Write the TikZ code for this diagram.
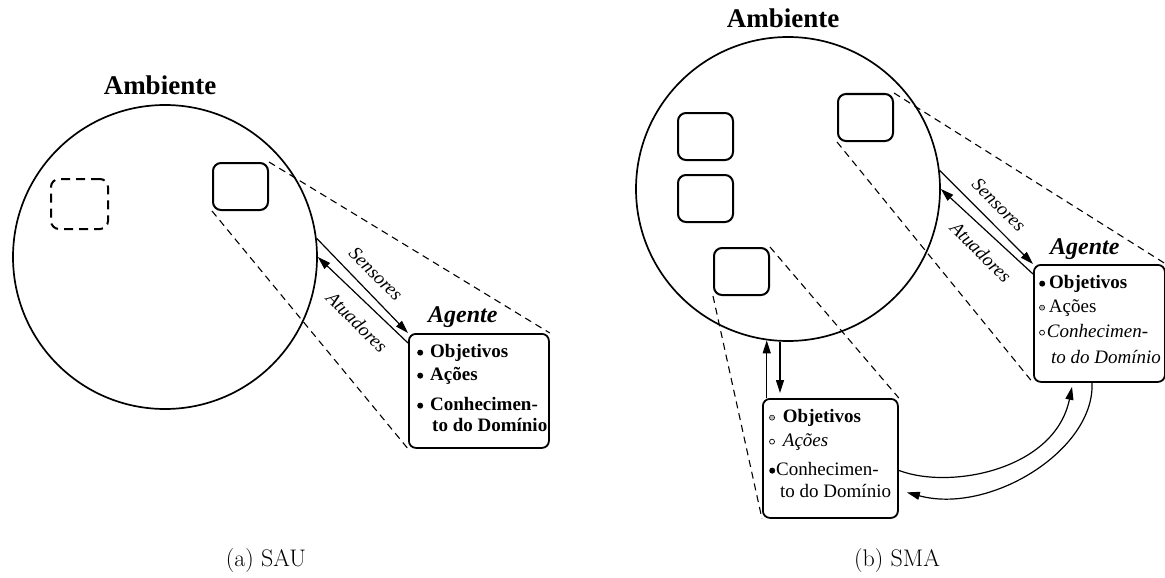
\documentclass[tikz,border=0pt]{standalone}
\usepackage{fontspec}
\newfontfamily\tmsfont{Liberation Serif}
\usetikzlibrary{arrows.meta,calc}

\newcommand{\fulldot}{\tikz[baseline=-0.5ex]\fill (0pt,0pt) circle (3pt);}
\newcommand{\graydot}{\tikz[baseline=-0.5ex]\filldraw[fill=gray!55,line width=0.5pt] (0pt,0pt) circle (2.6pt);}
\newcommand{\opendot}{\tikz[baseline=-0.5ex]\draw[line width=0.7pt] (0pt,0pt) circle (2.5pt);}

\begin{document}
\begin{tikzpicture}[x=1pt,y=-1pt,
    amb/.style={circle,draw,line width=1.7pt,minimum size=304pt,inner sep=0pt},
    obj/.style={draw,line width=2pt,rounded corners=8pt,minimum width=55pt,minimum height=47pt,inner sep=0pt,anchor=north west},
    agbox/.style={draw,line width=1.8pt,rounded corners=7pt,inner sep=0pt,anchor=north west},
    view/.style={line width=1.1pt,dash pattern=on 7pt off 5pt},
    act/.style={line width=1.2pt,-{Triangle[length=13pt,width=8pt]}},
    txt/.style={font=\tmsfont\fontsize{19}{22}\selectfont,anchor=base west,inner sep=0pt},
    ttl/.style={font=\tmsfont\bfseries\fontsize{27}{30}\selectfont,anchor=base,inner sep=0pt},
    agt/.style={font=\tmsfont\bfseries\itshape\fontsize{24}{28}\selectfont,anchor=base west,inner sep=0pt},
    lbl/.style={font=\tmsfont\itshape\fontsize{19}{22}\selectfont,rotate=-45,inner sep=0pt},
    subcap/.style={font=\fontsize{24}{28}\selectfont,anchor=base,inner sep=0pt}]
  \useasboundingbox (0,0) rectangle (1165,578);

  % (a) SAU
  \node[ttl] (amb1) at (160,95) {Ambiente};
  \node[amb] (env1) at (165,257) {};
  \node[obj,dash pattern=on 9pt off 6pt,minimum width=57pt,minimum height=50pt] (ghost) at (50,178) {};
  \node[obj] (self1) at (212,162) {};
  \node[agbox,minimum width=140pt,minimum height=114pt] (ag1) at (408,333) {};
  \node[agt] (agn1) at (428,322) {Agente};
  \node[txt] (a1o) at (417,357) {\fulldot\hspace{7pt}\textbf{Objetivos}};
  \node[txt] (a1a) at (417,380) {\fulldot\hspace{7pt}\textbf{Ações}};
  \node[txt] (a1c) at (417,410) {\fulldot\hspace{7pt}\textbf{Conhecimen-}};
  \node[txt] (a1d) at (432,431) {\textbf{to do Domínio}};
  \draw[view] (self1.north east) -- (ag1.north east);
  \draw[view] (self1.south west) -- (ag1.south west);
  \draw[act] (env1.7) -- (ag1.north west);
  \draw[act] ($(ag1.north west)+(0,10)$) -- (env1.0);
  \node[lbl] (sen1) at (376,274) {Sensores};
  \node[lbl] (atu1) at (357,322) {Atuadores};
  \node[subcap] (capa) at (266,566) {(a) SAU};

  % (b) SMA
  \node[ttl] (amb2) at (783,28) {Ambiente};
  \node[amb] (env2) at (788,189) {};
  \node[obj] (oth1) at (677,112) {};
  \node[obj] (oth2) at (677,174) {};
  \node[obj] (self2) at (837,93) {};
  \node[obj] (oth3) at (713,247) {};
  \node[agbox,minimum width=131pt,minimum height=117pt] (ag2) at (1033,264) {};
  \node[agbox,minimum width=135pt,minimum height=119pt] (ag3) at (762,398) {};
  \node[agt] (agn2) at (1050,254) {Agente};
  \node[txt] (b1o) at (1039,288) {\fulldot\hspace{4pt}\textbf{Objetivos}};
  \node[txt] (b1a) at (1039,312) {\graydot\hspace{4pt}Ações};
  \node[txt] (b1c) at (1039,337) {\opendot\hspace{2pt}\textit{Conhecimen-}};
  \node[txt] (b1d) at (1051,363) {\textit{to do Domínio}};
  \node[txt] (c1o) at (769,422) {\graydot\hspace{8pt}\textbf{Objetivos}};
  \node[txt] (c1a) at (769,446) {\opendot\hspace{8pt}\textit{Ações}};
  \node[txt] (c1c) at (769,475) {\fulldot\hspace{1pt}Conhecimen-};
  \node[txt] (c1d) at (780,497) {to do Domínio};
  \draw[view] (self2.north east) -- (ag2.north east);
  \draw[view] (self2.south west) -- (ag2.south west);
  \draw[view] (oth3.north east) -- (ag3.north east);
  \draw[view] (oth3.south west) -- (ag3.south west);
  \draw[act] (env2.7) -- (ag2.north west);
  \draw[act] ($(ag2.north west)+(0,10)$) -- (env2.0);
  \node[lbl] (sen2) at (999,205) {Sensores};
  \node[lbl] (atu2) at (981,252) {Atuadores};
  \draw[act] (env2.262 |- ag3.north) -- (env2.262);
  \draw[act] (env2.267) -- ($(env2.267 |- ag3.north)+(0,-5)$);
  \draw[act] ($(ag3.east)+(0,12)$) .. controls (950,490) and (1055,470) .. ($(ag2.south west)+(39,4)$);
  \draw[act] ($(ag2.south west)+(59,0)$) .. controls (1095,450) and (990,515) .. ($(ag3.east)+(8,34)$);
  \node[subcap] (capb) at (897,566) {(b) SMA};
\end{tikzpicture}
\end{document}
